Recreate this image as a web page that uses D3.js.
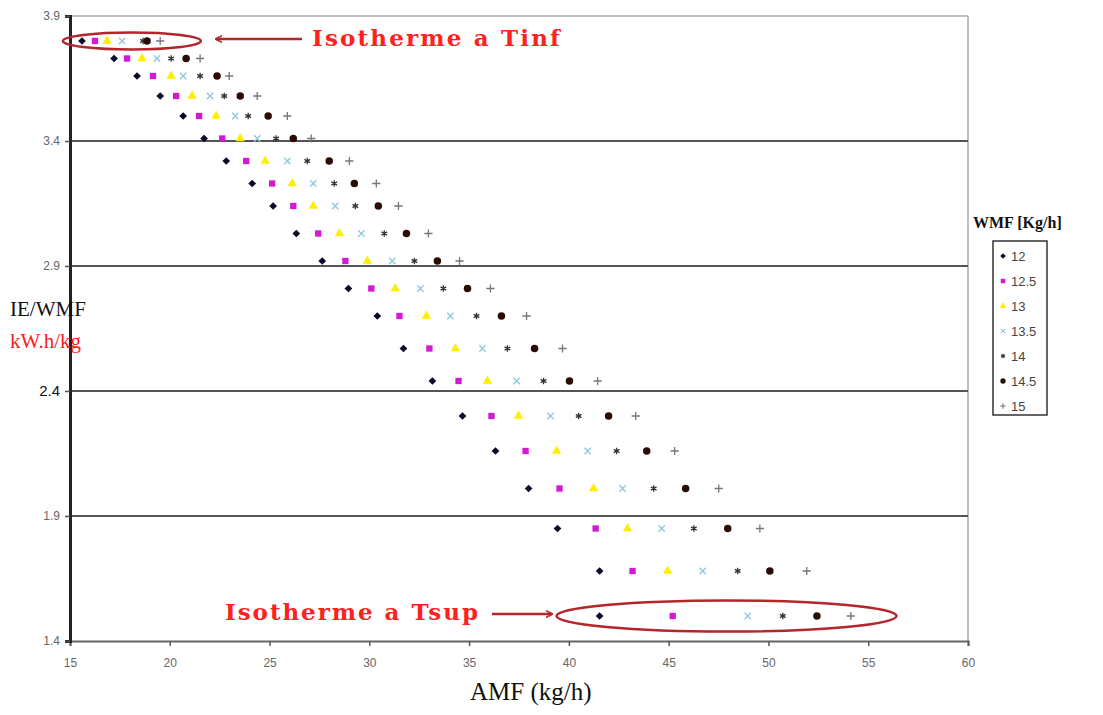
<!DOCTYPE html>
<html>
<head>
<meta charset="utf-8">
<style>
  body { margin: 0; background: #fff; }
  svg { display: block; }
</style>
</head>
<body>
<div id="chart"></div>
<script src="https://cdn.jsdelivr.net/npm/d3@7"></script>
<script>
// IE/WMF (kW.h/kg) for every row of points
var ieValues = [3.80, 3.73, 3.66, 3.58, 3.50, 3.41, 3.32, 3.23, 3.14, 3.03, 2.92,
                2.81, 2.70, 2.57, 2.44, 2.30, 2.16, 2.01, 1.85, 1.68, 1.50];

// AMF (kg/h) per WMF series, same row order as ieValues
var amf12   = [15.60, 17.21, 18.36, 19.52, 20.67, 21.72, 22.83, 24.13, 25.18, 26.34, 27.64,
               28.95, 30.40, 31.71, 33.16, 34.67, 36.32, 37.98, 39.43, 41.54, 41.54];
var amf12_5 = [16.25, 17.86, 19.16, 20.32, 21.47, 22.63, 23.83, 25.13, 26.19, 27.44, 28.80,
               30.10, 31.51, 33.01, 34.47, 36.12, 37.83, 39.53, 41.34, 43.19, 45.20];
var amf13   = [16.86, 18.61, 20.07, 21.12, 22.32, 23.53, 24.78, 26.14, 27.19, 28.50, 29.90,
               31.30, 32.86, 34.31, 35.92, 37.48, 39.38, 41.24, 42.94, 44.95, null];
var amf13_5 = [17.61, 19.36, 20.67, 22.02, 23.28, 24.38, 25.89, 27.19, 28.29, 29.60, 31.15,
               32.56, 34.06, 35.67, 37.38, 39.08, 40.94, 42.69, 44.65, 46.71, 48.96];
var amf14   = [18.66, 20.07, 21.52, 22.73, 23.93, 25.33, 26.89, 28.24, 29.30, 30.75, 32.26,
               33.71, 35.37, 36.92, 38.73, 40.49, 42.39, 44.25, 46.26, 48.46, 50.72];
var amf14_5 = [18.86, 20.82, 22.37, 23.53, 24.93, 26.19, 27.99, 29.25, 30.45, 31.86, 33.41,
               34.92, 36.62, 38.28, 40.03, 41.99, 43.90, 45.85, 47.96, 50.07, 52.43];
var amf15   = [19.52, 21.52, 22.98, 24.38, 25.89, 27.09, 29.00, 30.35, 31.46, 32.96, 34.52,
               36.07, 37.88, 39.68, 41.44, 43.35, 45.30, 47.51, 49.57, 51.92, 54.13];

var wmfLabels = ["12", "12.5", "13", "13.5", "14", "14.5", "15"];
var xTicks = [15, 20, 25, 30, 35, 40, 45, 50, 55, 60];
var yTicks = [1.4, 1.9, 2.4, 2.9, 3.4, 3.9];

var width = 1103, height = 715;
var plot = {left: 70, right: 968, top: 16, bottom: 641};

var svg = d3.select("#chart").append("svg")
    .attr("width", width)
    .attr("height", height);

var x = d3.scaleLinear().domain([15, 60]).range([plot.left, plot.right]);
var y = d3.scaleLinear().domain([1.4, 3.9]).range([plot.bottom, plot.top]);

// marker look for each series (Excel style)
var markers = [
  {type: d3.symbolSquare,   size: 30, fill: "#0a0a2a", stroke: "none", rot: 45},
  {type: d3.symbolSquare,   size: 40, fill: "#d21ad2", stroke: "none", rot: 0},
  {type: d3.symbolTriangle, size: 38, fill: "#ffee00", stroke: "none", rot: 0},
  {type: d3.symbolTimes,    size: 28, fill: "none", stroke: "#8cc8dc", rot: 0},
  {type: d3.symbolAsterisk, size: 30, fill: "none", stroke: "#333", rot: 0},
  {type: d3.symbolCircle,   size: 44, fill: "#2a0c05", stroke: "none", rot: 0},
  {type: d3.symbolPlus,     size: 24, fill: "none", stroke: "#777", rot: 0}
];
var seriesAmf = [amf12, amf12_5, amf13, amf13_5, amf14, amf14_5, amf15];

// border of the plot area
svg.append("line")
    .attr("x1", plot.left).attr("x2", plot.right)
    .attr("y1", plot.top).attr("y2", plot.top)
    .attr("stroke", "#aaa").attr("stroke-width", 1.5);
svg.append("line")
    .attr("x1", plot.right).attr("x2", plot.right)
    .attr("y1", plot.top).attr("y2", plot.bottom)
    .attr("stroke", "#aaa").attr("stroke-width", 1.5);

// horizontal gridlines
svg.append("g")
  .selectAll("line")
  .data(yTicks.filter(function(t) { return t > 1.4 && t < 3.9; }))
  .enter().append("line")
    .attr("x1", plot.left).attr("x2", plot.right)
    .attr("y1", function(d) { return y(d); })
    .attr("y2", function(d) { return y(d); })
    .attr("stroke", "#555").attr("stroke-width", 2);

// x axis
var xAxis = svg.append("g")
    .attr("transform", "translate(0," + plot.bottom + ")")
    .call(d3.axisBottom(x).tickValues(xTicks).tickSize(5).tickPadding(12).tickFormat(d3.format("d")));
xAxis.select(".domain").attr("stroke", "#666").attr("stroke-width", 2);
xAxis.selectAll(".tick line").attr("stroke", "#555").attr("stroke-width", 1.5);
xAxis.selectAll("text").attr("font-family", "Arial, Liberation Sans, sans-serif")
    .attr("font-size", 12).attr("fill", "#666");

// y axis
var yAxis = svg.append("g")
    .attr("transform", "translate(" + plot.left + ",0)")
    .call(d3.axisLeft(y).tickValues(yTicks).tickSize(5).tickPadding(5).tickFormat(d3.format(".1f")));
yAxis.select(".domain").attr("stroke", "#222").attr("stroke-width", 3);
yAxis.selectAll(".tick line").attr("stroke", "#555").attr("stroke-width", 1.5);
yAxis.selectAll("text").attr("font-family", "Arial, Liberation Sans, sans-serif")
    .attr("font-size", 12).attr("fill", "#666");
yAxis.selectAll(".tick text").filter(function(d) { return d === 2.4; })
    .attr("font-size", 15).attr("fill", "#111");

// points
seriesAmf.forEach(function(arr, s) {
  var m = markers[s];
  var sym = d3.symbol().type(m.type).size(m.size);
  svg.append("g").selectAll("path")
    .data(arr.map(function(v, i) { return {amf: v, ie: ieValues[i]}; })
             .filter(function(d) { return d.amf !== null; }))
    .enter().append("path")
      .attr("d", sym)
      .attr("transform", function(d) {
        return "translate(" + x(d.amf) + "," + y(d.ie) + ") rotate(" + m.rot + ")";
      })
      .attr("fill", m.fill)
      .attr("stroke", m.stroke)
      .attr("stroke-width", 1.3);
});

// annotations
var annoRed = "#b3262a";
var defs = svg.append("defs");
defs.append("marker")
    .attr("id", "head")
    .attr("viewBox", "0 0 10 10")
    .attr("refX", 9).attr("refY", 5)
    .attr("markerWidth", 7).attr("markerHeight", 9)
    .attr("markerUnits", "userSpaceOnUse")
    .attr("orient", "auto")
  .append("path")
    .attr("d", "M0,0 L10,5 L0,10")
    .attr("fill", "none").attr("stroke", annoRed).attr("stroke-width", 2);

// top (T inf)
svg.append("ellipse")
    .attr("cx", x(18.1)).attr("cy", y(3.80))
    .attr("rx", 69).attr("ry", 8.5)
    .attr("fill", "none").attr("stroke", annoRed).attr("stroke-width", 2.5);
svg.append("line")
    .attr("x1", 302).attr("y1", 39).attr("x2", 216).attr("y2", 39)
    .attr("stroke", annoRed).attr("stroke-width", 2.5)
    .attr("marker-end", "url(#head)");
svg.append("text")
    .attr("x", 312).attr("y", 46)
    .attr("font-family", "DejaVu Serif, serif")
    .attr("font-weight", "bold")
    .attr("font-size", 23)
    .attr("textLength", 248)
    .attr("fill", "#ff2020")
    .text("Isotherme a Tinf");

// bottom (T sup)
svg.append("ellipse")
    .attr("cx", x(47.9)).attr("cy", y(1.50))
    .attr("rx", 170).attr("ry", 15.5)
    .attr("fill", "none").attr("stroke", annoRed).attr("stroke-width", 2.5);
svg.append("line")
    .attr("x1", 492).attr("y1", 614).attr("x2", 552).attr("y2", 614)
    .attr("stroke", annoRed).attr("stroke-width", 2.5)
    .attr("marker-end", "url(#head)");
svg.append("text")
    .attr("x", 225).attr("y", 620)
    .attr("font-family", "DejaVu Serif, serif")
    .attr("font-weight", "bold")
    .attr("font-size", 23)
    .attr("textLength", 253)
    .attr("fill", "#ff2020")
    .text("Isotherme a Tsup");

// axis titles
svg.append("text")
    .attr("x", 10).attr("y", 316)
    .attr("font-family", "Liberation Serif, Times New Roman, serif")
    .attr("font-size", 21).attr("fill", "#111")
    .text("IE/WMF");
svg.append("text")
    .attr("x", 10).attr("y", 348)
    .attr("font-family", "Liberation Serif, Times New Roman, serif")
    .attr("font-size", 21).attr("fill", "#ff1a1a")
    .text("kW.h/kg");
svg.append("text")
    .attr("x", 470).attr("y", 700)
    .attr("font-family", "Liberation Serif, Times New Roman, serif")
    .attr("font-size", 25).attr("fill", "#111")
    .text("AMF (kg/h)");

// legend
svg.append("text")
    .attr("x", 973).attr("y", 228)
    .attr("font-family", "Liberation Serif, Times New Roman, serif")
    .attr("font-weight", "bold")
    .attr("font-size", 16).attr("fill", "#111")
    .text("WMF [Kg/h]");
svg.append("rect")
    .attr("x", 993).attr("y", 241)
    .attr("width", 54).attr("height", 174)
    .attr("fill", "#fff").attr("stroke", "#333").attr("stroke-width", 1.5);
var legend = svg.append("g").selectAll("g")
    .data(wmfLabels)
    .enter().append("g")
    .attr("transform", function(d, i) { return "translate(1003," + (256 + i * 25) + ")"; });
legend.append("path")
    .attr("d", function(d, i) { return d3.symbol().type(markers[i].type).size(markers[i].size * 0.5)(); })
    .attr("transform", function(d, i) { return "rotate(" + markers[i].rot + ")"; })
    .attr("fill", function(d, i) { return markers[i].fill; })
    .attr("stroke", function(d, i) { return markers[i].stroke; })
    .attr("stroke-width", 1.1);
legend.append("text")
    .attr("x", 8).attr("y", 5)
    .attr("font-family", "Arial, Liberation Sans, sans-serif")
    .attr("font-size", 13).attr("fill", "#444")
    .text(function(d) { return d; });
</script>
</body>
</html>
